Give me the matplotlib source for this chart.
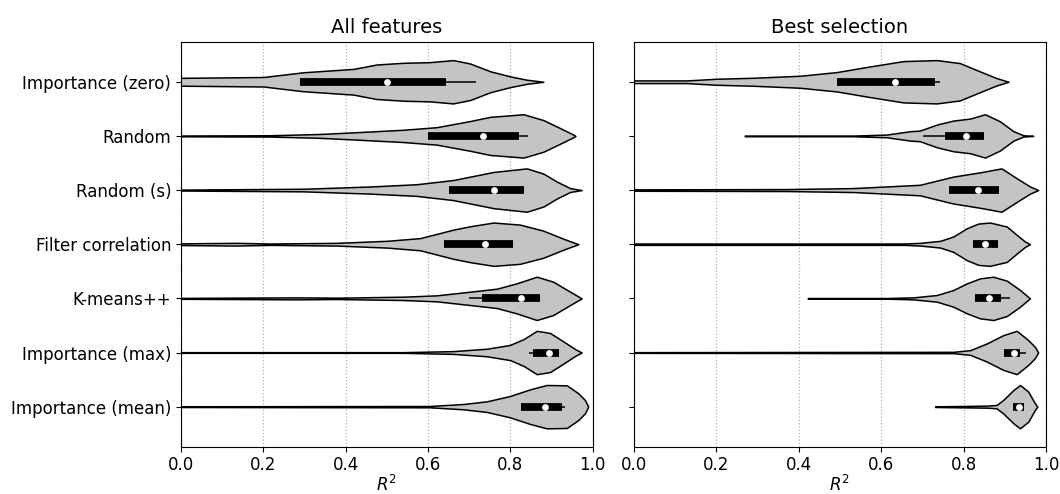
import matplotlib

matplotlib.use("Agg")
import matplotlib.pyplot as plt
import numpy as np

# ==============================================================================
#   Data
# ------------------------------------------------------------------------------
categories = [
    "Importance (zero)",
    "Random",
    "Random (s)",
    "Filter correlation",
    "K-means++",
    "Importance (max)",
    "Importance (mean)",
]

# violin profiles: R^2 positions and relative half widths (all features)
all_coords = [
    [-0.05, 0.20, 0.297, 0.419, 0.475, 0.54, 0.605, 0.661, 0.702, 0.751, 0.799, 0.84, 0.88],
    [-0.05, 0.216, 0.338, 0.419, 0.54, 0.621, 0.702, 0.751, 0.832, 0.88, 0.921, 0.953, 0.958],
    [-0.05, 0.297, 0.459, 0.572, 0.661, 0.759, 0.84, 0.88, 0.913, 0.945, 0.973],
    [-0.05, 0.135, 0.216, 0.378, 0.5, 0.581, 0.661, 0.702, 0.759, 0.823, 0.88, 0.929, 0.965],
    [-0.05, 0.281, 0.378, 0.54, 0.621, 0.702, 0.767, 0.815, 0.864, 0.904, 0.945, 0.973],
    [-0.05, 0.54, 0.661, 0.743, 0.799, 0.832, 0.864, 0.896, 0.929, 0.957, 0.973],
    [-0.05, 0.605, 0.686, 0.743, 0.799, 0.848, 0.888, 0.937, 0.965, 0.981, 0.989],
]
all_widths = [
    [11, 14, 28, 38, 51, 56, 58, 64, 54, 31, 16, 6, 0],
    [1, 2, 6, 11, 19, 27, 46, 59, 67, 49, 24, 4, 0],
    [1, 4, 11, 18, 31, 56, 67, 51, 26, 6, 0],
    [2, 4, 2, 4, 10, 18, 43, 53, 64, 58, 40, 16, 0],
    [1, 3, 2, 5, 9, 20, 29, 45, 65, 50, 20, 0],
    [1, 1, 4, 11, 22, 39, 63, 57, 32, 10, 0],
    [1, 2, 8, 16, 32, 52, 65, 64, 40, 20, 0],
]
all_q1 = [0.289, 0.599, 0.650, 0.639, 0.730, 0.854, 0.826]
all_med = [0.501, 0.734, 0.760, 0.738, 0.825, 0.894, 0.884]
all_q3 = [0.644, 0.822, 0.832, 0.807, 0.872, 0.919, 0.925]
all_lo = [0.289, 0.599, 0.650, 0.639, 0.700, 0.845, 0.826]
all_hi = [0.716, 0.842, 0.832, 0.807, 0.872, 0.919, 0.933]

# best selection
best_coords = [
    [-0.05, 0.128, 0.2, 0.29, 0.403, 0.492, 0.573, 0.654, 0.735, 0.791, 0.84, 0.88, 0.909],
    [0.269, 0.532, 0.613, 0.67, 0.694, 0.735, 0.775, 0.816, 0.852, 0.888, 0.921, 0.945, 0.969],
    [-0.05, 0.371, 0.532, 0.613, 0.694, 0.775, 0.84, 0.892, 0.929, 0.961, 0.981],
    [-0.05, 0.654, 0.694, 0.743, 0.775, 0.808, 0.836, 0.864, 0.905, 0.929, 0.949, 0.961],
    [0.422, 0.613, 0.678, 0.735, 0.775, 0.808, 0.84, 0.872, 0.905, 0.937, 0.961],
    [-0.05, 0.775, 0.816, 0.856, 0.896, 0.929, 0.957, 0.973, 0.981],
    [0.731, 0.856, 0.88, 0.896, 0.921, 0.937, 0.957, 0.973, 0.979],
]
best_widths = [
    [4, 4, 9, 12, 18, 29, 46, 62, 65, 56, 31, 11, 0],
    [1, 1, 4, 14, 16, 34, 46, 52, 65, 44, 14, 2, 0],
    [2, 3, 6, 11, 16, 41, 54, 66, 36, 11, 0],
    [2, 2, 4, 10, 23, 48, 62, 65, 53, 28, 8, 0],
    [1, 1, 3, 10, 25, 45, 60, 65, 53, 25, 0],
    [1, 2, 7, 27, 52, 65, 37, 17, 0],
    [1, 3, 5, 20, 50, 65, 45, 10, 0],
]
best_q1 = [0.494, 0.755, 0.765, 0.824, 0.828, 0.898, 0.921]
best_med = [0.634, 0.805, 0.834, 0.853, 0.862, 0.922, 0.934]
best_q3 = [0.731, 0.850, 0.887, 0.883, 0.892, 0.937, 0.947]
best_lo = [0.494, 0.701, 0.765, 0.824, 0.828, 0.898, 0.921]
best_hi = [0.743, 0.850, 0.887, 0.883, 0.913, 0.951, 0.947]


# ------------------------------------------------------------------------------
# draws one panel of violins with a box inside each
def draw_panel(ax, coords, widths, q1, med, q3, lo, hi, title):
    pos = np.arange(len(coords))
    stats = []
    for i in range(len(coords)):
        stats.append(
            {
                "coords": np.array(coords[i]),
                "vals": np.array(widths[i], dtype=float),
                "mean": med[i],
                "median": med[i],
                "min": coords[i][0],
                "max": coords[i][-1],
            }
        )
    parts = ax.violin(
        stats,
        positions=pos,
        orientation="horizontal",
        widths=0.8,
        showmeans=False,
        showextrema=False,
        showmedians=False,
    )
    for body in parts["bodies"]:
        body.set_facecolor("#c4c4c4")
        body.set_edgecolor("black")
        body.set_linewidth(1.1)
        body.set_alpha(1)
        body.set_zorder(2)

    # whiskers, box and median dot
    ax.hlines(pos, lo, hi, color="black", lw=1.1, zorder=3)
    ax.hlines(pos, q1, q3, color="black", lw=5.6, zorder=3)
    ax.scatter(med, pos, s=24, color="white", zorder=4, linewidths=0)

    ax.set_xlim(0, 1)
    ax.set_ylim(6.74, -0.74)
    ax.set_xticks([0.0, 0.2, 0.4, 0.6, 0.8, 1.0])
    ax.grid(True, axis="x", linestyle=":", color="#b0b0b0", lw=0.9, zorder=0)
    ax.set_axisbelow(True)
    ax.set_title(title, fontsize=14)
    ax.set_xlabel("$R^2$", fontsize=12, labelpad=0)
    ax.tick_params(labelsize=12)
    return


# ==============================================================================
fig = plt.figure(figsize=(10.6, 4.94), dpi=100)
ax1 = fig.add_axes([0.1708, 0.0957, 0.3884, 0.8199])
ax2 = fig.add_axes([0.598, 0.0957, 0.3888, 0.8199])

draw_panel(ax1, all_coords, all_widths, all_q1, all_med, all_q3, all_lo, all_hi, "All features")
draw_panel(ax2, best_coords, best_widths, best_q1, best_med, best_q3, best_lo, best_hi, "Best selection")

ax1.set_yticks(np.arange(len(categories)))
ax1.set_yticklabels(categories)
ax2.set_yticks(np.arange(len(categories)))
ax2.set_yticklabels([])

fig.savefig("out.png", dpi=100)
